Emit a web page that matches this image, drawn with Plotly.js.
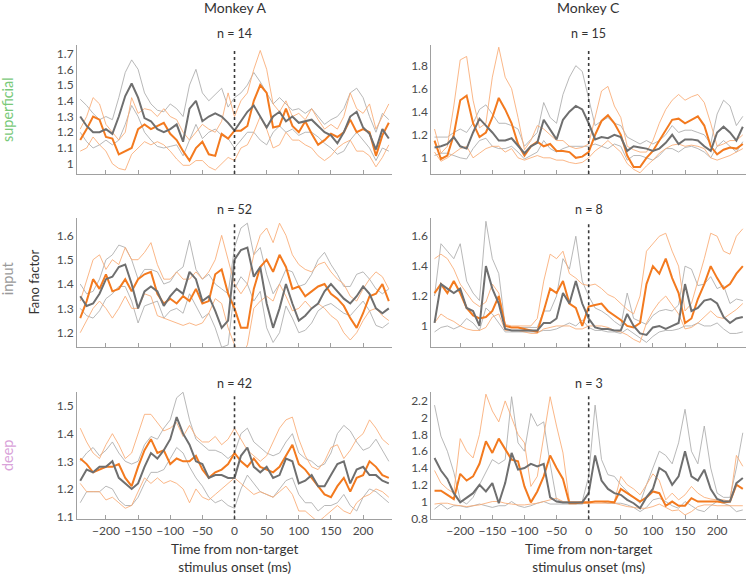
<!DOCTYPE html>
<html>
<head>
<meta charset="utf-8">
<script src="https://cdn.plot.ly/plotly-3.0.1.min.js"></script>
<style>
  html, body { margin: 0; padding: 0; background: #fff; }
  #chart { width: 747px; height: 576px; }
</style>
</head>
<body>
<div id="chart"></div>
<script>
// time bins (ms from non-target onset)
const times = [-240,-230,-220,-210,-200,-190,-180,-170,-160,-150,-140,-130,-120,-110,-100,-90,-80,-70,-60,-50,-40,-30,-20,-10,0,10,20,30,40,50,60,70,80,90,100,110,120,130,140,150,160,170,180,190,200,210,220,230,240];
const xTicks = [-200,-150,-100,-50,0,50,100,150,200];

// superficial, monkey A (n = 14)
const supA_grayMean = [1.30,1.24,1.2,1.2,1.22,1.19,1.3,1.43,1.51, 1.42,1.29,1.27,1.22,1.2,1.22,1.25,1.14,1.35, 1.4,1.27,1.3,1.32,1.3,1.26,1.21,1.27,1.33, 1.37,1.3,1.23,1.3,1.33,1.27,1.3,1.26,1.27, 1.28,1.24,1.2,1.18,1.13,1.2,1.3,1.33,1.23, 1.19,1.09,1.22,1.16];
const supA_grayHi = [1.41,1.37,1.32,1.28,1.3,1.28,1.42,1.58,1.66, 1.6,1.45,1.38,1.34,1.33,1.38,1.35,1.3,1.5, 1.6,1.45,1.4,1.44,1.48,1.36,1.42,1.45,1.5, 1.58,1.52,1.45,1.38,1.42,1.38,1.34,1.35,1.32, 1.35,1.3,1.25,1.28,1.3,1.35,1.45,1.48,1.42, 1.3,1.2,1.32,1.28];
const supA_grayLo = [1.2,1.14,1.1,1.12,1.15,1.12,1.15,1.25,1.37, 1.3,1.2,1.15,1.11,1.1,1.11,1.12,1.05,1.15, 1.25,1.16,1.2,1.22,1.18,1.16,1.1,1.15,1.2, 1.2,1.15,1.12,1.2,1.24,1.2,1.22,1.18,1.2, 1.2,1.17,1.13,1.1,1.06,1.08,1.15,1.2,1.15, 1.1,1.02,1.1,1.08];
const supA_orMean = [1.15,1.22,1.3,1.28,1.17,1.16,1.06,1.08,1.1, 1.22,1.25,1.22,1.24,1.26,1.19,1.15,1.08,1.02, 1.1,1.14,1.06,1.05,1.19,1.16,1.21,1.21,1.24, 1.4,1.5,1.45,1.23,1.24,1.35,1.24,1.2,1.27, 1.19,1.12,1.15,1.19,1.17,1.2,1.28,1.2,1.22, 1.2,1.05,1.18,1.26];
const supA_orHi = [1.22,1.3,1.42,1.38,1.25,1.2,1.15,1.2,1.42, 1.32,1.35,1.34,1.3,1.35,1.3,1.28,1.2,1.15, 1.2,1.25,1.22,1.2,1.27,1.45,1.3,1.4,1.45, 1.6,1.72,1.6,1.38,1.33,1.4,1.3,1.32,1.28, 1.35,1.28,1.22,1.25,1.22,1.3,1.45,1.35,1.32, 1.38,1.22,1.3,1.38];
const supA_orLo = [1.08,1.1,1.17,1.12,1.08,1.0,0.97,0.96,1.06, 1.1,1.14,1.12,1.14,1.12,1.08,1.03,0.99,0.99, 1.02,1.02,0.98,0.96,1.0,1.04,1.02,1.1,1.12, 1.2,1.3,1.22,1.1,1.12,1.2,1.15,1.15,1.12, 1.1,1.05,1.02,1.05,1.1,1.13,1.15,1.08,1.08, 1.05,0.98,1.04,1.12];

// superficial, monkey C (n = 15)
const supC_grayMean = [1.09,1.1,1.12,1.18,1.1,1.08,1.22,1.34,1.28, 1.22,1.15,1.15,1.17,1.1,1.04,1.1,1.13,1.33, 1.25,1.16,1.33,1.4,1.45,1.42,1.3,1.16,1.18, 1.17,1.2,1.18,1.06,1.1,1.09,1.08,1.06,1.08, 1.13,1.2,1.12,1.16,1.16,1.15,1.1,1.06,1.22, 1.27,1.22,1.15,1.27];
const supC_grayHi = [1.18,1.18,1.18,1.22,1.25,1.22,1.3,1.42,1.46, 1.38,1.3,1.3,1.28,1.25,1.1,1.16,1.22,1.48, 1.35,1.3,1.55,1.7,1.8,1.75,1.5,1.28,1.32, 1.35,1.3,1.28,1.18,1.15,1.12,1.15,1.12,1.15, 1.2,1.28,1.22,1.24,1.24,1.22,1.2,1.12,1.38, 1.5,1.45,1.28,1.36];
const supC_grayLo = [1.02,1.04,1.04,1.02,1.0,0.99,1.08,1.15,1.17, 1.1,1.08,1.08,1.1,1.05,0.99,1.02,1.05,1.15, 1.08,1.05,1.08,1.1,1.1,1.1,1.1,1.12,1.1, 1.08,1.12,1.1,0.98,1.02,1.02,1.0,0.98,1.02, 1.08,1.08,1.05,1.09,1.1,1.08,1.05,1.0,1.1, 1.15,1.1,1.05,1.14];
const supC_orMean = [1.15,0.99,1.02,1.2,1.5,1.54,1.3,1.18,1.22, 1.35,1.52,1.42,1.3,1.12,1.02,1.1,1.14,1.1, 1.12,1.06,1.06,1.05,1.0,1.01,1.05,1.2,1.32, 1.37,1.3,1.2,1.02,0.92,0.92,1.0,1.06,1.15, 1.25,1.33,1.34,1.3,1.33,1.36,1.28,1.1,1.03, 1.07,1.09,1.08,1.12];
const supC_orHi = [1.25,1.04,1.1,1.45,1.85,1.88,1.5,1.26,1.3, 1.7,1.96,1.7,1.6,1.35,1.07,1.15,1.28,1.25, 1.2,1.15,1.15,1.1,1.08,1.09,1.12,1.35,1.58, 1.62,1.45,1.35,1.1,1.07,1.05,1.05,1.15,1.3, 1.42,1.5,1.55,1.5,1.53,1.55,1.48,1.3,1.1, 1.12,1.15,1.15,1.2];
const supC_orLo = [1.05,0.97,1.0,1.04,1.08,1.1,1.0,1.04,1.08, 1.1,1.1,1.05,1.08,1.0,0.98,1.0,1.02,1.0, 1.0,0.98,0.98,0.96,0.95,0.96,1.0,1.06,1.1, 1.15,1.1,1.05,0.95,0.9,0.87,0.93,0.98,1.04, 1.08,1.11,1.12,1.1,1.11,1.1,1.08,1.0,0.98, 1.0,1.02,1.05,1.08];

// input, monkey A (n = 52)
const inA_grayMean = [1.35,1.31,1.32,1.36,1.42,1.43,1.47,1.48,1.4, 1.3,1.37,1.39,1.37,1.31,1.35,1.38,1.36,1.45, 1.42,1.33,1.35,1.29,1.22,1.25,1.5,1.54,1.55, 1.43,1.47,1.32,1.22,1.3,1.4,1.32,1.25,1.27, 1.3,1.32,1.37,1.4,1.37,1.34,1.32,1.35,1.39, 1.36,1.3,1.28,1.3];
const inA_grayHi = [1.4,1.36,1.37,1.42,1.5,1.52,1.56,1.55,1.5, 1.42,1.46,1.46,1.45,1.4,1.41,1.45,1.47,1.58, 1.46,1.42,1.44,1.4,1.38,1.36,1.55,1.63,1.65, 1.52,1.55,1.44,1.36,1.4,1.46,1.45,1.39,1.4, 1.44,1.5,1.53,1.48,1.44,1.39,1.39,1.44,1.45, 1.42,1.38,1.36,1.38];
const inA_grayLo = [1.3,1.27,1.26,1.29,1.34,1.36,1.39,1.39,1.33, 1.24,1.31,1.32,1.33,1.26,1.29,1.3,1.28,1.36, 1.31,1.26,1.28,1.22,1.14,1.15,1.38,1.43,1.4, 1.33,1.37,1.22,1.16,1.2,1.31,1.26,1.2,1.21, 1.24,1.29,1.31,1.32,1.3,1.28,1.27,1.3,1.33, 1.29,1.23,1.22,1.24];
const inA_orMean = [1.26,1.33,1.42,1.38,1.44,1.37,1.38,1.42,1.37, 1.42,1.44,1.45,1.36,1.32,1.34,1.32,1.35,1.33, 1.38,1.32,1.33,1.44,1.46,1.36,1.3,1.22,1.22, 1.38,1.47,1.5,1.45,1.52,1.47,1.38,1.39,1.35, 1.37,1.39,1.4,1.36,1.34,1.31,1.26,1.22,1.28, 1.35,1.36,1.4,1.33];
const inA_orHi = [1.33,1.42,1.5,1.52,1.46,1.5,1.48,1.55,1.5, 1.5,1.53,1.57,1.48,1.42,1.42,1.45,1.42,1.42, 1.45,1.42,1.45,1.5,1.6,1.5,1.4,1.36,1.4, 1.52,1.6,1.63,1.57,1.65,1.6,1.52,1.48,1.46, 1.45,1.48,1.49,1.45,1.42,1.4,1.35,1.33,1.38, 1.42,1.45,1.43,1.38];
const inA_orLo = [1.2,1.25,1.3,1.33,1.3,1.26,1.3,1.35,1.3, 1.3,1.36,1.35,1.27,1.26,1.25,1.24,1.23,1.24, 1.23,1.24,1.28,1.34,1.32,1.22,1.15,1.1,1.15, 1.3,1.33,1.35,1.33,1.4,1.35,1.29,1.3,1.33, 1.3,1.32,1.3,1.27,1.25,1.2,1.17,1.2,1.25, 1.29,1.3,1.27,1.25];

// input, monkey C (n = 8)
const inC_grayMean = [1.02,1.28,1.25,1.22,1.25,1.12,1.1,1.0,1.4, 1.25,1.15,0.98,0.97,0.97,0.97,0.97,0.97,1.02, 1.02,1.05,1.22,1.15,1.3,1.15,1.05,0.99,0.98, 0.98,0.97,0.97,1.08,1.0,0.95,0.94,0.99,1.0, 0.98,1.0,1.02,1.28,1.1,1.12,1.17,1.18,1.15, 1.06,1.02,1.05,1.06];
const inC_grayHi = [1.2,1.55,1.5,1.45,1.55,1.3,1.22,1.17,1.7, 1.45,1.35,1.0,0.99,0.99,0.99,0.99,0.99,1.1, 1.1,1.2,1.45,1.38,1.6,1.3,1.2,1.12,1.1, 1.07,1.03,1.0,1.22,1.05,1.03,1.01,1.07,1.1, 1.11,1.1,1.14,1.4,1.38,1.27,1.28,1.33,1.25, 1.27,1.15,1.18,1.17];
const inC_grayLo = [0.96,0.99,1.0,0.98,1.0,1.05,1.02,0.97,1.12, 1.08,1.02,0.96,0.96,0.96,0.96,0.96,0.96,0.97, 0.97,0.98,1.0,1.02,1.0,1.04,0.99,0.97,0.97, 0.96,0.96,0.95,0.98,0.95,0.92,0.89,0.93,0.96, 0.97,0.97,0.98,1.0,1.0,1.02,1.0,1.0,1.02, 0.98,0.95,0.95,0.96];
const inC_orMean = [1.22,1.28,1.22,1.3,1.22,1.12,1.07,1.05,1.06, 1.1,1.2,1.0,0.99,0.99,0.98,0.97,0.96,1.1, 1.25,1.22,1.3,1.15,1.12,1.0,1.13,1.14,1.15, 1.1,1.07,1.04,1.0,0.99,1.02,1.28,1.4,1.35, 1.45,1.32,1.22,1.02,1.05,1.18,1.28,1.4,1.32, 1.25,1.28,1.35,1.4];
const inC_orHi = [1.45,1.48,1.45,1.38,1.28,1.22,1.16,1.13,1.16, 1.28,1.22,1.01,1.0,1.0,1.0,1.0,1.05,1.3, 1.48,1.45,1.5,1.35,1.32,1.28,1.27,1.28,1.25, 1.21,1.19,1.15,1.11,1.08,1.2,1.5,1.55,1.6, 1.62,1.5,1.4,1.1,1.15,1.3,1.45,1.62,1.6, 1.5,1.48,1.6,1.65];
const inC_orLo = [1.02,1.08,1.05,1.03,1.0,0.98,0.97,0.97,0.99, 1.06,1.08,0.97,0.97,0.97,0.96,0.95,0.95,0.98, 0.99,1.0,1.0,1.0,0.98,0.98,1.0,1.0,1.0, 0.99,0.97,0.96,0.94,0.91,0.89,1.02,1.1,1.16, 1.2,1.14,1.08,0.98,0.99,1.02,1.06,1.1,1.06, 1.05,1.08,1.11,1.15];

// deep, monkey A (n = 42)
const deepA_grayMean = [1.23,1.27,1.26,1.28,1.28,1.3,1.24,1.22,1.2, 1.22,1.28,1.33,1.31,1.34,1.38,1.46,1.4,1.36, 1.3,1.29,1.24,1.25,1.25,1.24,1.24,1.32,1.35, 1.28,1.26,1.28,1.24,1.25,1.31,1.3,1.22,1.23, 1.25,1.21,1.21,1.25,1.29,1.3,1.22,1.27,1.28, 1.25,1.25,1.23,1.22];
const deepA_grayHi = [1.3,1.33,1.35,1.32,1.34,1.37,1.33,1.3,1.29, 1.3,1.36,1.39,1.38,1.42,1.45,1.53,1.55,1.45, 1.38,1.36,1.34,1.34,1.33,1.31,1.33,1.4,1.42, 1.37,1.35,1.33,1.32,1.33,1.37,1.4,1.33,1.31, 1.3,1.28,1.29,1.33,1.4,1.43,1.41,1.37,1.34, 1.35,1.38,1.34,1.3];
const deepA_grayLo = [1.15,1.19,1.19,1.19,1.21,1.2,1.16,1.14,1.14, 1.17,1.22,1.26,1.26,1.27,1.31,1.35,1.33,1.28, 1.24,1.21,1.17,1.15,1.16,1.14,1.13,1.2,1.25, 1.22,1.19,1.18,1.17,1.2,1.23,1.24,1.18,1.15, 1.15,1.12,1.14,1.14,1.15,1.18,1.14,1.12,1.17, 1.2,1.19,1.17,1.15];
const deepA_orMean = [1.31,1.29,1.26,1.27,1.28,1.28,1.29,1.24,1.21, 1.28,1.34,1.38,1.33,1.34,1.29,1.31,1.3,1.3, 1.32,1.27,1.24,1.26,1.27,1.29,1.33,1.3,1.28, 1.31,1.28,1.27,1.26,1.28,1.32,1.36,1.29,1.27, 1.24,1.21,1.18,1.17,1.21,1.24,1.19,1.24,1.25, 1.3,1.28,1.25,1.24];
const deepA_orHi = [1.42,1.37,1.33,1.31,1.36,1.4,1.36,1.31,1.33, 1.4,1.47,1.47,1.44,1.41,1.42,1.44,1.39,1.43, 1.39,1.37,1.37,1.39,1.36,1.38,1.42,1.38,1.34, 1.32,1.3,1.32,1.37,1.42,1.45,1.46,1.38,1.32, 1.28,1.27,1.3,1.35,1.36,1.31,1.34,1.38,1.4, 1.45,1.42,1.38,1.36];
const deepA_orLo = [1.22,1.19,1.19,1.19,1.16,1.17,1.15,1.13,1.14, 1.19,1.24,1.22,1.24,1.22,1.23,1.22,1.2,1.15, 1.2,1.17,1.16,1.18,1.2,1.22,1.24,1.22,1.2, 1.18,1.19,1.18,1.17,1.19,1.21,1.18,1.12,1.12, 1.1,1.08,1.1,1.12,1.14,1.12,1.11,1.15,1.17, 1.18,1.2,1.19,1.17];

// deep, monkey C (n = 3)
const deepC_grayMean = [1.52,1.37,1.27,1.1,0.99,1.04,1.1,1.2,1.12, 1.22,0.98,1.22,1.58,1.38,1.4,1.45,1.42,1.45, 1.05,1.0,0.99,0.99,0.99,0.99,1.1,1.55,1.25, 1.15,1.1,1.08,1.02,0.98,0.92,1.05,1.15,1.4, 1.35,1.2,1.3,1.6,1.3,1.25,1.38,1.15,1.03, 1.0,1.0,1.22,1.28];
const deepC_grayHi = [2.15,1.78,1.6,1.35,1.02,0.97,1.05,1.2,1.35, 1.5,1.45,1.5,2.25,1.7,1.6,2.05,1.9,1.95, 1.45,1.02,1.0,1.0,1.0,1.0,1.3,2.15,1.5, 1.32,1.3,1.2,1.12,1.05,0.98,1.2,1.4,1.6, 1.55,1.45,1.7,2.1,1.6,1.45,1.9,1.4,1.1, 1.05,1.05,1.4,1.82];
const deepC_grayLo = [0.91,0.97,0.91,0.95,0.95,0.93,0.95,0.97,0.95, 0.93,0.95,0.95,1.0,0.95,0.93,0.95,0.98,1.0, 0.97,0.97,0.97,0.97,0.97,0.97,1.0,1.0,1.0, 0.98,0.98,0.98,0.96,0.93,0.88,0.93,1.02,1.04, 1.0,0.95,0.92,1.0,0.95,0.9,0.88,0.95,1.0, 0.98,0.95,0.88,0.9];
const deepC_orMean = [1.13,1.13,1.08,1.03,1.33,1.25,1.3,1.45,1.72, 1.58,1.75,1.62,1.5,1.48,1.18,0.99,1.12,1.3, 1.55,1.4,1.27,0.98,0.98,0.99,0.99,1.0,1.0, 1.0,0.99,1.15,1.1,1.05,1.0,1.05,1.12,1.1, 0.95,1.0,0.95,0.95,1.04,1.0,1.0,1.0,1.0, 0.99,1.0,1.2,1.15];
const deepC_orHi = [1.37,1.22,1.15,1.1,1.75,1.6,1.52,1.8,2.28, 2.08,1.95,2.2,2.0,1.8,1.7,1.18,1.3,1.75, 2.25,1.9,1.58,1.0,1.0,1.0,1.0,1.0,1.0, 1.0,1.0,1.3,1.2,1.15,1.08,1.2,1.33,1.25, 1.02,1.1,1.02,1.08,1.18,1.1,1.05,1.03,1.02, 1.02,1.0,1.55,1.42];
const deepC_orLo = [0.97,0.98,0.98,0.96,0.95,0.94,0.95,0.96,0.98, 1.0,1.0,0.98,0.97,0.96,0.96,0.97,0.98,1.0, 1.02,1.04,1.0,0.98,0.98,0.98,0.98,0.98,0.98, 0.98,0.98,0.96,0.94,0.93,0.92,0.92,0.94,0.97, 0.93,0.89,0.9,0.84,0.88,0.94,0.96,0.96,0.95, 0.95,0.95,0.95,0.95];

const panels = [
    { s: '',  n: 'n = 14', yRange: [0.935, 1.755], dtick: 0.1, tick0: 1.0,
      gm: supA_grayMean, gh: supA_grayHi, gl: supA_grayLo, om: supA_orMean, oh: supA_orHi, ol: supA_orLo },
    { s: '2', n: 'n = 15', yRange: [0.86, 1.98], dtick: 0.2, tick0: 1.0,
      gm: supC_grayMean, gh: supC_grayHi, gl: supC_grayLo, om: supC_orMean, oh: supC_orHi, ol: supC_orLo },
    { s: '3', n: 'n = 52', yRange: [1.14, 1.67], dtick: 0.1, tick0: 1.2,
      gm: inA_grayMean, gh: inA_grayHi, gl: inA_grayLo, om: inA_orMean, oh: inA_orHi, ol: inA_orLo },
    { s: '4', n: 'n = 8', yRange: [0.857, 1.72], dtick: 0.2, tick0: 1.0,
      gm: inC_grayMean, gh: inC_grayHi, gl: inC_grayLo, om: inC_orMean, oh: inC_orHi, ol: inC_orLo },
    { s: '5', n: 'n = 42', yRange: [1.09, 1.552], dtick: 0.1, tick0: 1.1,
      gm: deepA_grayMean, gh: deepA_grayHi, gl: deepA_grayLo, om: deepA_orMean, oh: deepA_orHi, ol: deepA_orLo },
    { s: '6', n: 'n = 3', yRange: [0.788, 2.31], dtick: 0.2, tick0: 0.8,
      gm: deepC_grayMean, gh: deepC_grayHi, gl: deepC_grayLo, om: deepC_orMean, oh: deepC_orHi, ol: deepC_orLo }
];

const colors = {
    grayMean: '#6f6f6f',
    grayThin: '#ababab',
    orMean: '#f37a1f',
    orThin: '#f9aa72',
    axis: '#a0a0a0',
    tick: '#4a4a4a'
};

// column / row placement in paper fractions
const colDomains = [[0.1031, 0.5248], [0.5774, 0.9987]];
const rowDomains = [[0.698, 0.922], [0.397, 0.621], [0.0984, 0.320]];
const nLabelY = [0.941, 0.637, 0.335];

const data = [];
const layout = {
    width: 747,
    height: 576,
    margin: { l: 0, r: 0, t: 0, b: 0 },
    paper_bgcolor: '#ffffff',
    plot_bgcolor: '#ffffff',
    showlegend: false,
    font: { family: 'Lato, "Open Sans", sans-serif', color: colors.tick },
    shapes: [],
    annotations: []
};

function line(x, y, s, color, width) {
    return {
        x: x, y: y, type: 'scatter', mode: 'lines',
        xaxis: 'x' + s, yaxis: 'y' + s,
        line: { color: color, width: width },
        hoverinfo: 'skip'
    };
}

panels.forEach((p, i) => {
    const row = Math.floor(i / 2);
    const col = i % 2;
    const s = p.s;

    data.push(line(times, p.gh, s, colors.grayThin, 0.85));
    data.push(line(times, p.gl, s, colors.grayThin, 0.85));
    data.push(line(times, p.oh, s, colors.orThin, 0.85));
    data.push(line(times, p.ol, s, colors.orThin, 0.85));
    data.push(line(times, p.om, s, colors.orMean, 2));
    data.push(line(times, p.gm, s, colors.grayMean, 2));

    layout['xaxis' + s] = {
        domain: colDomains[col],
        anchor: 'y' + s,
        range: [-245, 245],
        tickvals: xTicks,
        showticklabels: row === 2,
        ticks: 'inside',
        ticklen: 4,
        tickcolor: colors.axis,
        showline: true,
        linecolor: colors.axis,
        linewidth: 1,
        showgrid: false,
        zeroline: false,
        tickfont: { size: 12, color: colors.tick }
    };
    layout['yaxis' + s] = {
        domain: rowDomains[row],
        anchor: 'x' + s,
        range: p.yRange,
        tick0: p.tick0,
        dtick: p.dtick,
        ticks: '',
        showline: true,
        linecolor: colors.axis,
        linewidth: 1,
        showgrid: false,
        zeroline: false,
        tickfont: { size: 12, color: colors.tick }
    };

    // stimulus onset marker
    layout.shapes.push({
        type: 'line', xref: 'x' + s, yref: 'y' + s + ' domain',
        x0: 0, x1: 0, y0: 0, y1: 0.97,
        line: { color: '#3a3a3a', width: 1.6, dash: 'dot' }
    });

    layout.annotations.push({
        text: p.n, xref: 'x' + s, yref: 'paper', x: 0, y: nLabelY[row],
        showarrow: false, xanchor: 'center', yanchor: 'middle',
        font: { size: 12.5, color: '#333' }
    });
});

// column titles
layout.annotations.push(
    { text: 'Monkey A', xref: 'x', yref: 'paper', x: 0, y: 0.987, showarrow: false,
      xanchor: 'center', yanchor: 'middle', font: { size: 14, color: '#333' } },
    { text: 'Monkey C', xref: 'x2', yref: 'paper', x: 0, y: 0.987, showarrow: false,
      xanchor: 'center', yanchor: 'middle', font: { size: 14, color: '#333' } }
);

// row labels
layout.annotations.push(
    { text: 'superficial', xref: 'paper', yref: 'paper', x: 0.0094, y: 0.809, textangle: -90,
      showarrow: false, xanchor: 'center', yanchor: 'middle', font: { size: 14.5, color: '#79c979' } },
    { text: 'input', xref: 'paper', yref: 'paper', x: 0.0094, y: 0.517, textangle: -90,
      showarrow: false, xanchor: 'center', yanchor: 'middle', font: { size: 14.5, color: '#9a9a9a' } },
    { text: 'deep', xref: 'paper', yref: 'paper', x: 0.0094, y: 0.21, textangle: -90,
      showarrow: false, xanchor: 'center', yanchor: 'middle', font: { size: 14.5, color: '#d9a2d9' } },
    { text: 'Fano factor', xref: 'paper', yref: 'paper', x: 0.046, y: 0.51, textangle: -90,
      showarrow: false, xanchor: 'center', yanchor: 'middle', font: { size: 13, color: '#333' } }
);

// x axis titles
['x5', 'x6'].forEach(xa => {
    layout.annotations.push({
        text: 'Time from non-target<br>stimulus onset (ms)', xref: xa, yref: 'paper',
        x: 0, y: 0, showarrow: false, xanchor: 'center', yanchor: 'bottom', borderpad: 0,
        font: { size: 13.5, color: '#333' }
    });
});

Plotly.newPlot('chart', data, layout, { displayModeBar: false, staticPlot: true });
</script>
</body>
</html>
